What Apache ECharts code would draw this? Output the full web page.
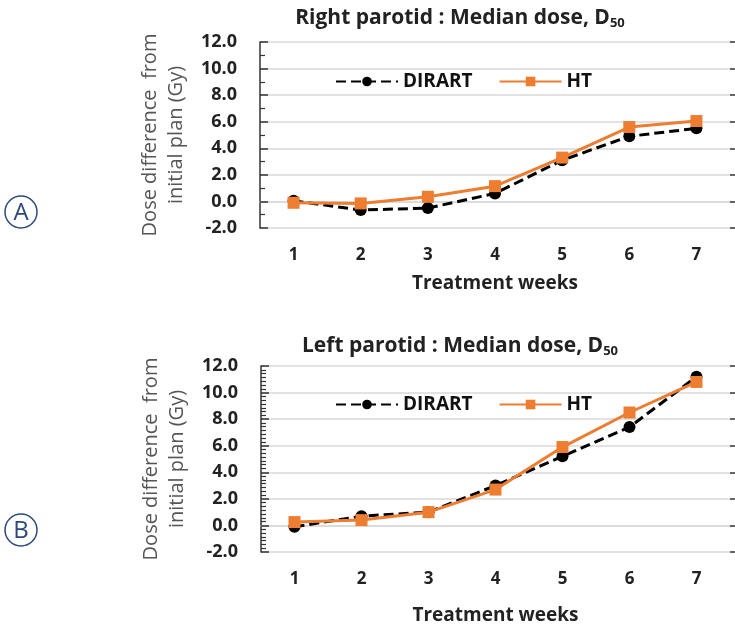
<!DOCTYPE html>
<html>
<head>
<meta charset="utf-8">
<script src="https://cdn.jsdelivr.net/npm/echarts@6/dist/echarts.min.js"></script>
<style>html,body{margin:0;padding:0;background:#fff}#c{width:735px;height:630px}</style>
</head>
<body>
<div id="c"></div>
<script>
const weeks = ['1','2','3','4','5','6','7'];
const rightDIRART = [0.05, -0.65, -0.5, 0.6, 3.1, 4.9, 5.5];
const rightHT = [-0.1, -0.15, 0.35, 1.15, 3.3, 5.6, 6.05];
const leftDIRART = [-0.1, 0.7, 1.0, 3.0, 5.2, 7.4, 11.2];
const leftHT = [0.25, 0.4, 1.0, 2.7, 5.9, 8.5, 10.8];
const yTicks = [-2, 0, 2, 4, 6, 8, 10, 12];
const titles = ['Right parotid : Median dose, D', 'Left parotid : Median dose, D'];
const panelLabels = ['A', 'B'];

const FONT = '"Open Sans", "Liberation Sans", sans-serif';
const ORANGE = '#ED7D31';
const grids = [
  {left: 260, right: 5, top: 42, height: 186},
  {left: 261, right: 5, top: 366, height: 186}
];

function xAx(i){
  return {
    type: 'category', gridIndex: i, data: weeks, boundaryGap: true,
    axisLine: {show: true, lineStyle: {color: '#d9d9d9', width: 1.5}},
    axisTick: {show: false},
    axisLabel: {color: '#222', fontFamily: FONT, fontWeight: 'bold', fontSize: 17, margin: 19},
    name: 'Treatment weeks', nameLocation: 'middle', nameGap: i === 0 ? 46 : 54,
    nameTextStyle: {color: '#222', fontFamily: FONT, fontWeight: 'bold', fontSize: 19}
  };
}
function yAx(i){
  return {
    type: 'value', gridIndex: i, min: yTicks[0], max: yTicks[yTicks.length-1], interval: 2,
    axisLine: {show: true, lineStyle: {color: '#333', width: 1.5}},
    axisTick: {show: true, inside: true, length: 8, lineStyle: {color: '#333', width: 1.5}},
    minorTick: {show: true, splitNumber: i === 0 ? 2 : 7, length: 5, lineStyle: {color: '#333', width: 1.2}},
    splitLine: {show: true, lineStyle: {color: '#d9d9d9', width: 1.5}},
    axisLabel: {color: '#222', fontFamily: FONT, fontWeight: 'bold', fontSize: 18, margin: 23,
      formatter: v => v.toFixed(1)},
    name: 'Dose difference  from\ninitial plan (Gy)', nameLocation: 'middle', nameRotate: 90, nameGap: 71,
    nameTextStyle: {color: '#555', fontFamily: FONT, fontSize: 20, lineHeight: 26}
  };
}
// overlay axis: draws the outward half of the crossing major ticks
function yTickAx(i){
  return {
    type: 'value', gridIndex: i, min: yTicks[0], max: yTicks[yTicks.length-1], interval: 2,
    axisLine: {show: false}, splitLine: {show: false}, axisLabel: {show: false},
    axisTick: {show: true, inside: false, length: 7, lineStyle: {color: '#333', width: 1.5}}
  };
}
function dirart(data, i){
  return {name: 'DIRART', type: 'line', xAxisIndex: i, yAxisIndex: i, data: data,
    symbol: 'circle', symbolSize: 12, itemStyle: {color: '#000'},
    lineStyle: {color: '#000', width: 3, type: [10, 5]}, z: 2};
}
function ht(data, i){
  return {name: 'HT', type: 'line', xAxisIndex: i, yAxisIndex: i, data: data,
    symbol: 'rect', symbolSize: 12, itemStyle: {color: ORANGE},
    lineStyle: {color: ORANGE, width: 3}, z: 3};
}
function legend(top){
  return {top: top, left: 330, itemWidth: 62, itemHeight: 12, itemGap: 26,
    textStyle: {color: '#111', fontFamily: FONT, fontSize: 19, fontWeight: 'bold'},
    data: ['DIRART', 'HT']};
}
function title(i, top){
  return {text: '{m|' + titles[i] + '}{s|50}', left: 455, textAlign: 'center', top: top,
    textStyle: {rich: {
      m: {fontFamily: FONT, fontWeight: 'bold', fontSize: 21, color: '#222'},
      s: {fontFamily: FONT, fontWeight: 'bold', fontSize: 13, color: '#222', verticalAlign: 'bottom', padding: [10,0,0,0]}
    }}};
}
function circleLabel(cy, letter){
  return [
    {type: 'circle', shape: {cx: 21, cy: cy, r: 16}, style: {fill: 'none', stroke: '#2b4a78', lineWidth: 1.5}},
    {type: 'text', x: 21, y: cy + 1, style: {text: letter, fill: '#2b4a78', font: '24px "Open Sans", sans-serif', align: 'center', verticalAlign: 'middle'}}
  ];
}

const chart = echarts.init(document.getElementById('c'), null, {renderer: 'canvas'});
chart.setOption({
  backgroundColor: '#fff',
  animation: false,
  title: [title(0, 2), title(1, 330)],
  legend: [legend(67), legend(390)],
  grid: grids,
  xAxis: [xAx(0), xAx(1)],
  yAxis: [yAx(0), yAx(1), yTickAx(0), yTickAx(1)],
  series: [dirart(rightDIRART, 0), ht(rightHT, 0), dirart(leftDIRART, 1), ht(leftHT, 1)],
  graphic: [].concat(circleLabel(212, panelLabels[0]), circleLabel(530, panelLabels[1]))
});
</script>
</body>
</html>
